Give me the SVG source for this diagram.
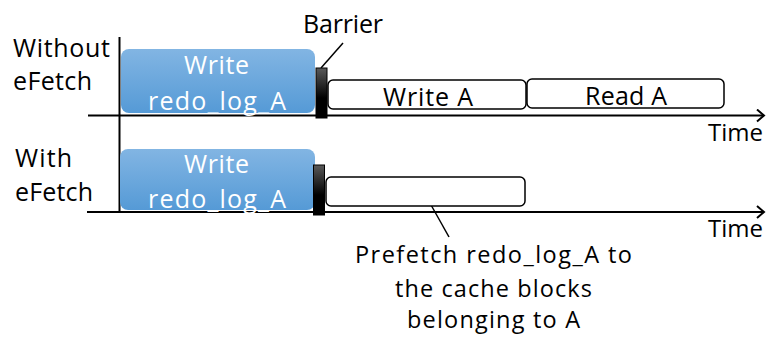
<svg xmlns="http://www.w3.org/2000/svg" width="766" height="341" viewBox="0 0 766 341">
<defs>
<linearGradient id="blue" x1="0" y1="0" x2="0" y2="1">
<stop offset="0" stop-color="#82b5e3"/>
<stop offset="1" stop-color="#559ad6"/>
</linearGradient>
<linearGradient id="bar" x1="0" y1="0" x2="0" y2="1">
<stop offset="0" stop-color="#5a5a5a"/>
<stop offset="0.6" stop-color="#000"/>
<stop offset="1" stop-color="#000"/>
</linearGradient>
<marker id="arrow" markerWidth="10" markerHeight="14" refX="8" refY="7" orient="auto" markerUnits="userSpaceOnUse">
<path d="M1,1 L8,7 L1,13" fill="none" stroke="#000" stroke-width="2"/>
</marker>
<style>
text{font-family:"Open Sans","Liberation Sans",sans-serif;font-size:25px;fill:#000}
.w{fill:#fff}
.s{font-size:23.5px}
.t{font-size:24px}
.axis{stroke:#000;stroke-width:2;fill:none}
.lead{stroke:#000;stroke-width:1.5;fill:none}
.blk{fill:#fff;stroke:#000;stroke-width:1.5}
</style>
</defs>
<g id="connectors">
<line class="axis" x1="119.5" y1="37" x2="119.5" y2="213"/>
<line class="axis" x1="88" y1="115.5" x2="764" y2="115.5" marker-end="url(#arrow)"/>
<line class="axis" x1="87" y1="212" x2="764" y2="212" marker-end="url(#arrow)"/>
<line class="lead" x1="343" y1="43" x2="321" y2="68"/>
<line class="lead" x1="426" y1="196" x2="449" y2="237"/>
</g>
<g id="labels">
<text x="13" y="57" textLength="97">Without</text>
<text x="13" y="90" textLength="79">eFetch</text>
<text x="15" y="167" textLength="57">With</text>
<text x="15" y="201" textLength="78">eFetch</text>
<text class="t" x="708" y="141">Time</text>
<text class="t" x="708" y="237">Time</text>
</g>
<g id="write-log-1">
<rect x="121" y="49" width="194" height="64" rx="8" fill="url(#blue)"/>
<text class="w" x="184" y="74" textLength="65">Write</text>
<text class="w" x="148" y="110" textLength="138">redo_log_A</text>
</g>
<g id="barrier-1">
<rect x="316" y="68" width="11" height="50" fill="url(#bar)" stroke="#000" stroke-width="1"/>
<text x="303" y="33" textLength="80">Barrier</text>
</g>
<g id="write-a">
<rect class="blk" x="328" y="80" width="198" height="29" rx="5"/>
<text x="383" y="106" textLength="90">Write A</text>
</g>
<g id="read-a">
<rect class="blk" x="527" y="79" width="197" height="29" rx="5"/>
<text x="585" y="105" textLength="82">Read A</text>
</g>
<g id="write-log-2">
<rect x="120" y="149" width="195" height="61" rx="8" fill="url(#blue)"/>
<text class="w" x="184" y="173" textLength="65">Write</text>
<text class="w" x="148" y="208" textLength="138">redo_log_A</text>
</g>
<g id="barrier-2">
<rect x="313.5" y="165" width="11" height="50" fill="url(#bar)" stroke="#000" stroke-width="1"/>
</g>
<g id="prefetch">
<rect class="blk" x="326" y="177" width="199" height="29" rx="5"/>
<text class="s" x="355" y="263" textLength="277">Prefetch redo_log_A to</text>
<text class="s" x="395" y="297" textLength="197">the cache blocks</text>
<text class="s" x="407" y="328" textLength="173">belonging to A</text>
</g>
</svg>
